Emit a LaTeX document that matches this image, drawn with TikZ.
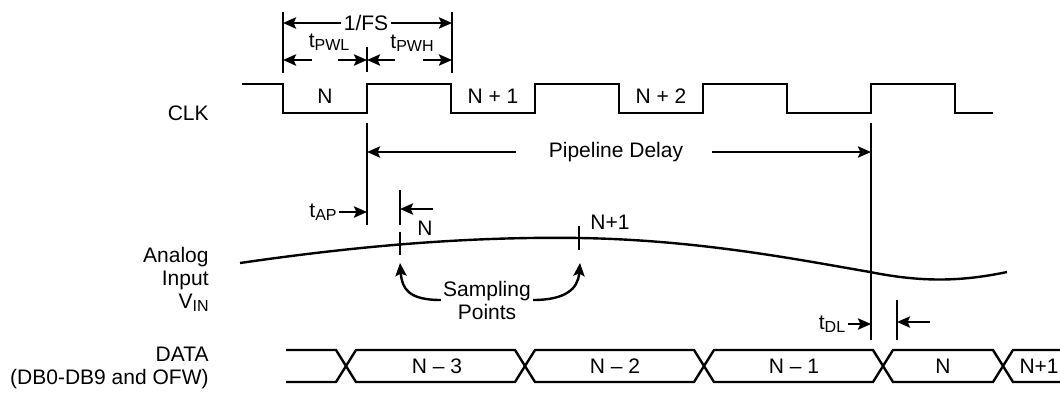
\documentclass[tikz,border=0pt]{standalone}
\usepackage{fontspec}
\setmainfont{Liberation Sans}
\usetikzlibrary{arrows.meta,calc}

\newcommand{\subtxt}[1]{\raisebox{-1.6pt}{\fontsize{8}{9}\selectfont#1}}

\begin{document}
\begin{tikzpicture}[
    x=0.5pt, y=-0.5pt,
    wave/.style={line width=1.2pt},
    dim/.style={line width=1.2pt, -{Stealth[length=6.5pt, width=5.6pt, inset=1.2pt]}},
    lbl/.style={font=\fontsize{10.5}{11.5}\selectfont, inner sep=1pt},
    sig/.style={lbl, align=right, anchor=east}
]
    \useasboundingbox (0,0) rectangle (1060,392);

    % Signal names
    \node[sig] (clk) at (211,113) {CLK};
    \node[sig] (vin) at (211,279) {Analog\\Input\\V\subtxt{IN}};
    \node[sig] (data) at (211,368) {DATA\\(DB0-DB9 and OFW)};

    % Clock
    \draw[wave] (242,84) \foreach \x in {283,451,619,787} {
        -- (\x,84) -- (\x,113) -- (\x+84,113) -- (\x+84,84) }
        -- (955,84) -- (955,113) -- (993,113);
    \node[lbl] (c0) at (325,96) {N};
    \node[lbl] (c1) at (493,96) {N + 1};
    \node[lbl] (c2) at (661,96) {N + 2};

    % Reference edges
    \coordinate (f1) at (283,12);
    \coordinate (r1) at (367,123);
    \coordinate (f2) at (452,12);
    \coordinate (r4) at (871,123);
    \coordinate (s1) at (400,190);
    \coordinate (q1) at (897,300);
    \draw[wave] (f1) -- ++(0,61);
    \draw[wave] (f2) -- ++(0,61);
    \draw[wave] (367,47) -- (367,72);
    \draw[wave] (r1) -- ++(0,102);
    \draw[wave] (r4) -- ++(0,217);
    \draw[wave] (s1) -- ++(0,35);
    \draw[wave] (q1) -- ++(0,40);

    % 1/FS and pulse widths
    \node[lbl] (fs) at (366,23) {1/FS};
    \draw[dim] (fs) -- (fs -| f1);
    \draw[dim] (fs) -- (fs -| f2);
    \node[lbl] (pwl) at (329,42) {t\subtxt{PWL}};
    \node[lbl] (pwh) at (412,43) {t\subtxt{PWH}};
    \coordinate (w0) at (283,60);
    \coordinate (w1) at (367,60);
    \coordinate (w2) at (452,60);
    \draw[dim] ($(w0)+(29,0)$) -- (w0);
    \draw[dim] ($(w1)+(-29,0)$) -- (w1);
    \draw[dim] ($(w1)+(28,0)$) -- (w1);
    \draw[dim] ($(w2)+(-29,0)$) -- (w2);

    % Pipeline delay
    \node[lbl] (pipe) at (616,152) {Pipeline Delay};
    \draw[dim] ($(pipe.west)+(-30,0)$) -- (pipe.west -| r1);
    \draw[dim] ($(pipe.east)+(26,0)$) -- (pipe.east -| r4);

    % Aperture delay
    \node[lbl, anchor=east] (tap) at (339,212) {t\subtxt{AP}};
    \draw[dim] (tap.east) -- (tap.east -| r1);
    \coordinate (sN) at (400,209);
    \draw[dim] ($(sN)+(33,0)$) -- (sN);
    \node[lbl] (nN) at (425,228) {N};

    % Analog input
    \draw[wave] (240,263) .. controls (330,250) and (450,236) .. (580,238)
        .. controls (700,240) and (800,260) .. (870,272)
        .. controls (920,282) and (960,282) .. (1007,272);
    \draw[wave] (400,232) -- (400,255);
    \draw[wave] (579,226) -- (579,250);
    \node[lbl] (nN1) at (610,222) {N+1};

    % Sampling points
    \node[lbl, align=center] (samp) at (487,300) {Sampling\\Points};
    \coordinate (sp1) at (400,263);
    \coordinate (sp2) at (580,263);
    \draw[dim] (samp.west) .. controls +(-32,0) and +(2,26) .. (sp1);
    \draw[dim] (samp.east) .. controls +(32,0) and +(-2,26) .. (sp2);

    % Output delay
    \node[lbl] (tdl) at (832,324) {t\subtxt{DL}};
    \draw[dim] (tdl.east) -- (tdl.east -| r4);
    \coordinate (qd) at (897,322);
    \draw[dim] ($(qd)+(33,0)$) -- (qd);

    % Data bus
    \draw[wave] (286,350) -- (336,350) -- (346,366) -- (336,382) -- (286,382);
    \foreach \a/\b in {346/525,525/704,704/883,883/1003}
        \draw[wave] (\a,366) -- (\a+10,350) -- (\b-10,350) -- (\b,366)
            -- (\b-10,382) -- (\a+10,382) -- cycle;
    \draw[wave] (1062,350) -- (1013,350) -- (1003,366) -- (1013,382) -- (1062,382);
    \node[lbl] (d3) at (437,366) {N -- 3};
    \node[lbl] (d2) at (615,366) {N -- 2};
    \node[lbl] (d1) at (794,366) {N -- 1};
    \node[lbl] (d0) at (943,366) {N};
    \node[lbl, anchor=east] (dn) at (1061,366) {N+1};
\end{tikzpicture}
\end{document}
